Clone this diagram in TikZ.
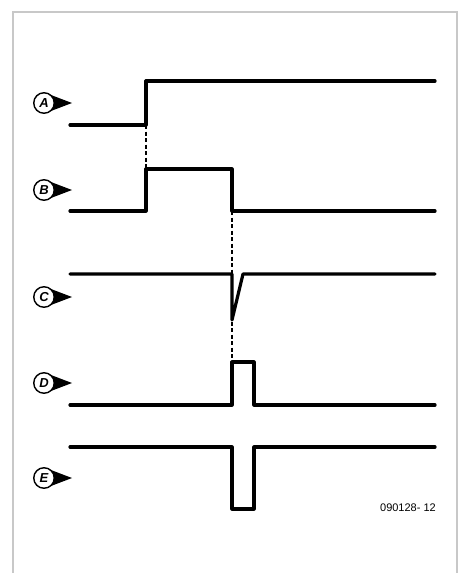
\documentclass[tikz,border=0pt]{standalone}
\usepackage{fontspec}
\setsansfont{Liberation Sans}
\usetikzlibrary{calc}
\definecolor{rim}{HTML}{C8C8C8}

\begin{document}
\begin{tikzpicture}[x=1pt,y=-1pt,
  wave/.style={line width=3.2pt,line join=round,line cap=round},
  guide/.style={line width=1.2pt,dash pattern=on 4pt off 2.5pt},
  tag/.style={circle,draw,line width=1.4pt,fill=white,minimum size=20.5pt,inner sep=0pt,font=\sffamily\bfseries\itshape\fontsize{13}{13}\selectfont}]
  \useasboundingbox (0,0) rectangle (462,573);
  \draw[rim,line width=2pt] (13,573) |- (457,12) -- (457,573);
  % signal tags
  \foreach \n/\y in {A/103,B/190,C/297,D/383,E/478}{
    \coordinate (c\n) at (44,\y);
    \fill ($(c\n)+(3,9.5)$) -- ($(c\n)+(28,0)$) -- ($(c\n)+(3,-9.5)$) -- cycle;
    \node[tag] (tag\n) at (c\n) {\n};
  }
  % edges shared by the traces
  \coordinate (riseA) at (146,125);
  \coordinate (riseB) at (146,169);
  \coordinate (fallB) at (232,211);
  \coordinate (riseD) at (232,362);
  \draw[guide] (riseA) -- (riseB);
  \draw[guide] (fallB) -- (riseD);
  % traces
  \draw[wave] (70,125) -- (riseA) -- (146,81) -- (435,81);
  \draw[wave] (70,211) -- (146,211) -- (riseB) -- (232,169) -- (fallB) -- (435,211);
  \draw[wave] (70,274) -- (232,274) -- (232,320) -- (243,274) -- (435,274);
  \draw[wave] (70,405) -- (232,405) -- (riseD) -- (254,362) -- (254,405) -- (435,405);
  \draw[wave] (70,447) -- (232,447) -- (232,509) -- (254,509) -- (254,447) -- (435,447);
  \node[anchor=base east,inner sep=0pt,font=\sffamily\fontsize{11}{11}\selectfont] (fig) at (436,511) {090128- 12};
\end{tikzpicture}
\end{document}
